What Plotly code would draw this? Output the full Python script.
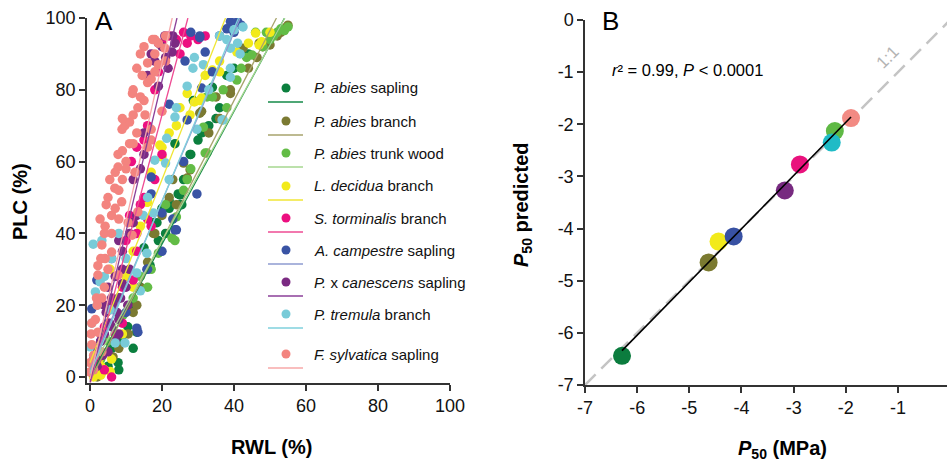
import plotly.graph_objects as go
import numpy as np

# ---------------- Data ----------------
species = ["<i>P. abies</i> sapling", "<i>P. abies</i> branch", "<i>P. abies</i> trunk wood",
           "<i>L. decidua</i> branch", "<i>S. torminalis</i> branch", "<i>A. campestre</i> sapling",
           "<i>P.</i> x <i>canescens</i> sapling", "<i>P. tremula</i> branch", "<i>F. sylvatica</i> sapling"]

rwl_pas = [3, 5, 7.8, 6, 9, 10.5, 13, 12, 14, 16.7, 15, 17.6, 19, 18.6, 20, 22, 22, 23.6, 24.5, 25, 25.5, 25, 26, 27.8, 28, 28.7, 30, 33, 34, 36, 35, 38, 8, 12, 21, 31, 40, 44]
plc_pas = [1, 3, 4, 8, 10, 14, 12.5, 20, 25, 31, 36, 43, 38, 43, 47, 47, 49, 65, 51, 48, 48, 50.7, 55, 62, 62, 77, 66, 70, 80.7, 75, 72, 84, 2, 8, 40, 68, 86, 90]

rwl_pab = [2, 4, 6.4, 8, 10.6, 12, 14, 17.6, 18, 16, 20, 23, 22, 27, 27.8, 26, 30.5, 31, 33, 36, 39, 39, 41.7, 42.5, 44, 46.4, 48, 50, 52, 54.7, 53, 13, 24, 35, 47, 55]
plc_pab = [0, 2, 5.6, 8, 12, 18, 25, 40, 40, 32, 45, 55, 50, 55.4, 57.7, 59.6, 73.5, 74, 68, 72, 79, 80, 91, 91.6, 86, 89, 92, 92.5, 95, 97.5, 96, 20, 48, 78, 93, 98]

rwl_pat = [1, 3, 5, 9.2, 12, 14, 17, 19, 22.8, 23.6, 24, 21, 26, 28, 31.5, 32, 32.5, 34, 32.5, 38, 40.8, 43.5, 45, 46, 48, 50, 51, 52, 53, 54, 55, 16, 27, 37, 49, 42]
plc_pat = [2, 5, 10, 17.3, 22, 28, 30, 34.5, 38.7, 38, 44.6, 48, 52, 58, 69.6, 62.4, 62.4, 78, 78, 75, 82.7, 89, 89.7, 96, 92, 94, 95, 96, 97, 96.5, 97.5, 25, 55, 80, 96, 86]

rwl_lde = [1, 2, 3, 4, 5.6, 3, 2.5, 5.6, 8, 10, 12, 14, 15.8, 16, 17, 19.4, 20, 20, 22, 24, 27, 27.8, 29, 30.5, 31, 32, 34, 36, 40.8, 46, 47, 47.7, 6, 9, 12, 25, 36, 44, 50]
plc_lde = [0, 1, 0.5, 2, 1.5, 3, 5, 30, 22, 28, 35, 42, 48.7, 48.7, 57, 64.6, 61.3, 64, 68, 70, 79, 73, 76.6, 77, 77.7, 84, 85.5, 85, 90.5, 95.8, 92.5, 93.4, 5, 12, 25, 75, 88, 93, 96]

rwl_sto = [6, 2, 3, 4, 5, 7, 8, 9, 12, 10, 11, 13, 14, 15, 16, 17, 11.5, 13, 15, 16, 18, 19, 20, 22, 24, 26, 28, 30, 32, 4, 9, 13, 18, 20, 27, 25]
plc_sto = [0, 5, 10, 14, 20, 12, 22, 25, 27, 38, 45, 40, 48, 50, 44, 42, 60, 64, 66, 70, 80, 85, 93, 95, 94, 96, 95, 94, 95, 2, 15, 35, 55, 62, 93, 90]

rwl_aca = [0.5, 1.9, 3, 5, 8, 13, 13.3, 15.8, 16, 17, 17, 20, 23, 23.6, 24, 22, 26.4, 27, 29.7, 30.5, 31, 32, 30.5, 36, 38, 41, 40, 42, 10, 20, 26, 34, 39, 28]
plc_aca = [19, 27, 10, 15, 22, 13.6, 12.5, 30, 30, 51, 55.7, 45.7, 44, 41, 41, 76, 88, 71.6, 51, 95, 80.5, 90.5, 94.5, 95, 97, 99, 96, 98, 18, 35, 60, 85, 99, 96]

rwl_pxc = [1, 2, 3, 4, 5, 6, 7, 8, 4.5, 6.5, 8.5, 10, 5, 7, 9, 3, 5.5, 8, 10.5, 9, 11, 12, 13, 12, 14, 15, 17, 19, 20.8, 21.7, 22.8, 23.6, 18, 16, 20, 2, 3.5, 6, 7.5, 9, 4, 6, 8, 11, 19, 21, 23, 15]
plc_pxc = [5, 8, 10, 12, 7, 14, 10, 16, 18, 20, 22, 25, 25, 28, 30, 12, 15, 12, 20, 35, 40, 43, 45, 55, 58, 62, 90, 81, 95, 86, 90.5, 93, 88, 84, 92, 3, 6, 22, 18, 26, 20, 33, 38, 30, 93, 89, 95, 68]

rwl_ptr = [0, 0.9, 2.8, 3.3, 1.5, 5.6, 7, 9.7, 14, 13, 15.8, 14.8, 17.6, 10, 18, 21, 21.3, 22, 23.6, 27, 28.6, 29, 29.7, 31.5, 36.7, 37, 39, 39, 39, 40, 41.7, 36, 42.5, 38, 0.5, 2, 4, 6, 8, 16, 24, 33, 41]
plc_ptr = [8.4, 37, 26.5, 38, 23.7, 18.7, 9.5, 9.5, 24, 29, 34.5, 45, 45.7, 33, 60.4, 59.6, 66.5, 55, 72.4, 81, 86, 89, 69, 87, 71.6, 71.6, 83.5, 86, 91.6, 96.7, 90, 95, 97.5, 94, 15, 20, 28, 33, 40, 50, 75, 80, 93]

rwl_fsy = [0, 0, 0.5, 1, 0.3, 2.2, 3.3, 1.5, 2.2, 3.3, 2, 4, 7.8, 4.2, 2.2, 5, 3.3, 6, 4, 4.2, 11.7, 6, 10.6, 7, 8.8, 5, 6.9, 9, 13.3, 12.5, 7.8, 10, 7.8, 9, 16, 12, 17, 8.9, 9.7, 11, 13.3, 15.3, 17, 20, 11.8, 14, 12, 16, 14.5, 13, 16, 18, 17.4, 15, 20.8, 19, 21, 18, 14,
           1, 0.5, 1.8, 3, 2.8, 4.5, 5.5, 7, 8, 10, 11, 13, 15, 17, 19, 21, 18, 9, 12, 6, 8]
plc_fsy = [1.4, 4, 9, 6, 12, 12.5, 7, 16, 28.4, 22, 20, 25, 28.4, 33, 31, 30, 36.8, 34.8, 40, 42, 39.5, 45, 43, 47, 48.8, 50, 52.6, 55, 46, 57, 58.5, 60, 62, 63, 64, 65, 66, 69, 70, 71, 75, 73, 69, 74, 79, 78, 80, 82, 84, 86, 87.5, 90, 94, 92, 91.6, 93, 88, 85, 90,
           2, 15, 22, 33, 44, 48, 55, 57, 52, 58, 65, 68, 77, 83, 87, 95, 94, 72, 73, 40, 44]

rwl_all = [rwl_pas, rwl_pab, rwl_pat, rwl_lde, rwl_sto, rwl_aca, rwl_pxc, rwl_ptr, rwl_fsy]
plc_all = [plc_pas, plc_pab, plc_pat, plc_lde, plc_sto, plc_aca, plc_pxc, plc_ptr, plc_fsy]

# linear fits PLC = slope * RWL + intercept
fit_slope = [1.85, 1.95, 1.82, 2.55, 3.75, 2.35, 4.2, 2.4, 4.4]
fit_int = [0, -1, 1.5, 4, -2, 2, -1.5, 1, -0.5]

# Panel B
p50_meas = [-6.29, -4.63, -2.21, -4.44, -2.88, -4.15, -3.17, -2.27, -1.90]
p50_pred = [-6.44, -4.65, -2.13, -4.25, -2.77, -4.15, -3.27, -2.35, -1.88]

# ---------------- Styles ----------------
pt_colors = ["#0b7f3e", "#7b7a32", "#63bc46", "#f2ea1b", "#ec0f80", "#3953a4", "#7b2a82", "#78cbd8", "#f3847f"]
ln_colors = ["#158a48", "#a7a36c", "#a6d78f", "#f0e635", "#ee4b93", "#8e9bd0", "#8b3f98", "#7fd0dd", "#f7a9a9"]
b_colors = ["#0b7c3e", "#7b7a30", "#5fb945", "#f2ea1a", "#e9127d", "#3851a3", "#772a80", "#1fbbc6", "#f28a83"]

FONT = "Liberation Sans, Arial, sans-serif"
W, H = 947, 461
def px(x): return x / W
def py(y): return 1 - y / H

fig = go.Figure()

for i in range(9):
    fig.add_trace(go.Scatter(x=rwl_all[i], y=plc_all[i], mode="markers",
                             marker=dict(size=9.5, color=pt_colors[i], line=dict(width=0)),
                             xaxis="x", yaxis="y", hoverinfo="skip"))
for i in range(9):
    a, b = fit_slope[i], fit_int[i]
    x0 = max(0.0, (-1.5 - b) / a)
    x1 = (100 - b) / a
    fig.add_trace(go.Scatter(x=[x0, x1], y=[a * x0 + b, a * x1 + b], mode="lines",
                             line=dict(color=ln_colors[i], width=1.3),
                             xaxis="x", yaxis="y", hoverinfo="skip"))

fig.add_trace(go.Scatter(x=[-7, 0], y=[-7, 0], mode="lines",
                         line=dict(color="#c4c4c4", width=2.5, dash="15px,8px"),
                         xaxis="x2", yaxis="y2", hoverinfo="skip", cliponaxis=False))
fig.add_trace(go.Scatter(x=p50_meas, y=p50_pred, mode="markers",
                         marker=dict(size=18, color=b_colors, line=dict(width=0)),
                         xaxis="x2", yaxis="y2", hoverinfo="skip"))
k, c = np.polyfit(p50_meas, p50_pred, 1)
xr = np.array([min(p50_meas), max(p50_meas)])
fig.add_trace(go.Scatter(x=xr, y=k * xr + c, mode="lines", line=dict(color="black", width=1.6),
                         xaxis="x2", yaxis="y2", hoverinfo="skip"))

axis_common = dict(showline=True, linecolor="#333", linewidth=1.5, ticks="outside", ticklen=6,
                   tickcolor="#333", tickwidth=1.5, showgrid=False, zeroline=False, automargin=False,
                   tickfont=dict(family=FONT, size=18, color="#111"))

b_ticks = [-7, -6, -5, -4, -3, -2, -1, 0]
b_ticktext = ["-7", "-6", "-5", "-4", "-3", "-2", "-1", "0"]

fig.update_layout(
    width=W, height=H, margin=dict(l=0, r=0, t=0, b=0, pad=0, autoexpand=False),
    paper_bgcolor="white", plot_bgcolor="white", showlegend=False,
    xaxis=dict(domain=[px(87), px(450)], range=[-0.83, 100], tickvals=[0, 20, 40, 60, 80, 100],
               anchor="y", **axis_common),
    yaxis=dict(domain=[py(383), py(18)], range=[-1.67, 100], tickvals=[0, 20, 40, 60, 80, 100],
               anchor="x", **axis_common),
    xaxis2=dict(domain=[px(585), 1], range=[-7, -0.06], tickvals=b_ticks, ticktext=b_ticktext,
                anchor="y2", **axis_common),
    yaxis2=dict(domain=[py(385), py(20)], range=[-7, 0], tickvals=b_ticks, ticktext=b_ticktext,
                anchor="x2", **axis_common),
)

ann = []
shapes = []
def label(text, x, y, size, angle=0, color="black", xanchor="center"):
    ann.append(dict(text=text, x=px(x), y=py(y), xref="paper", yref="paper", showarrow=False,
                    xanchor=xanchor, yanchor="middle", textangle=angle,
                    font=dict(family=FONT, size=size, color=color)))

label("A", 104, 21, 26)
label("B", 610, 21, 26)
label("<b>PLC (%)</b>", 20, 202, 20, angle=-90)
label("<b>RWL (%)</b>", 271, 447, 20)
label("<b><i>P</i><sub>50</sub> predicted</b>", 522, 205, 20, angle=-90)
label("<b><i>P</i><sub>50</sub> (MPa)</b>", 782, 449, 20)
label("<i>r</i>² = 0.99, <i>P</i> < 0.0001", 610, 70, 16.5, xanchor="left")
ann.append(dict(text="1:1", x=-1.2, y=-0.72, xref="x2", yref="y2", showarrow=False, textangle=-45,
                xanchor="center", yanchor="middle",
                font=dict(family=FONT, size=17, color="#b4b4b4")))

rows = [88, 121, 153, 186, 218, 250, 282, 314, 354]
for i in range(9):
    r = rows[i]
    shapes.append(dict(type="circle", xref="paper", yref="paper", xsizemode="pixel", ysizemode="pixel",
                       xanchor=px(286), yanchor=py(r), x0=-4.5, x1=4.5, y0=-4.5, y1=4.5,
                       fillcolor=pt_colors[i], line=dict(width=0)))
    shapes.append(dict(type="line", xref="paper", yref="paper", x0=px(268), x1=px(303),
                       y0=py(r + 14), y1=py(r + 14), line=dict(color=ln_colors[i], width=1.6)))
    label(species[i], 312, r, 15, color="#111", xanchor="left")

fig.update_layout(annotations=ann, shapes=shapes)
fig.write_html("out.html")
